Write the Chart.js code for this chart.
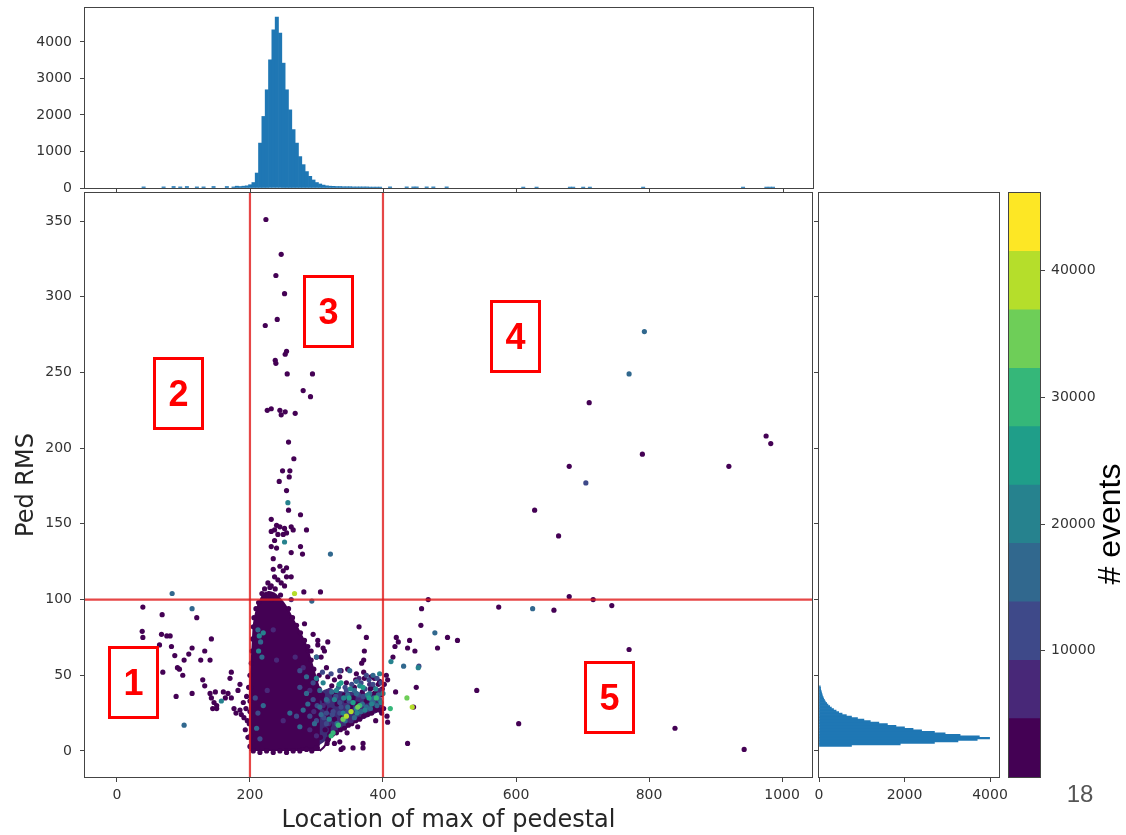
<!DOCTYPE html>
<html>
<head>
<meta charset="utf-8">
<script src="https://cdn.jsdelivr.net/npm/chart.js@4.4.1/dist/chart.umd.min.js"></script>
<style>
  html, body { margin: 0; background: #fff; }
  #stage { position: relative; width: 1126px; height: 835px; overflow: hidden; font-family: "DejaVu Sans", sans-serif; }
  canvas { position: absolute; }
  #cTop { left: 0; top: -10px; }
  #cMain { left: 0; top: 170px; }
  #cRight { left: 800px; top: 170px; }
  #cBar { left: 1000px; top: 170px; }
  .box { position: absolute; box-sizing: border-box; width: 51px; height: 73px; border: 3px solid #f00; color: #f00;
         font: bold 36px "Liberation Sans", Arial, sans-serif; display: flex; align-items: center; justify-content: center; }
  #evLabel { position: absolute; left: 1011px; top: 504px; width: 200px; height: 40px; line-height: 40px; text-align: center;
             font: 32px "Liberation Sans", Arial, sans-serif; color: #000; transform: rotate(-90deg); }
  #minLabel { position: absolute; left: 1050px; top: 780px; width: 60px; height: 30px; line-height: 30px; text-align: center;
              font: 24px "Liberation Sans", Arial, sans-serif; color: #555; }
</style>
</head>
<body>
<div id="stage">
  <canvas id="cTop" width="820" height="216"></canvas>
  <canvas id="cMain" width="816" height="665"></canvas>
  <canvas id="cRight" width="215" height="665"></canvas>
  <canvas id="cBar" width="126" height="665"></canvas>
  <div class="box" style="left:108px;top:646px">1</div>
  <div class="box" style="left:153px;top:357px">2</div>
  <div class="box" style="left:303px;top:275px">3</div>
  <div class="box" style="left:490px;top:300px">4</div>
  <div class="box" style="left:584px;top:661px">5</div>
  <div id="evLabel"># events</div>
  <div id="minLabel">18</div>
</div>
<script>
// ---- data ----
const mainXTicks = [0, 200, 400, 600, 800, 1000];
const mainYTicks = [0, 50, 100, 150, 200, 250, 300, 350];
const topYTicks = [0, 1000, 2000, 3000, 4000];
const rightXTicks = [0, 2000, 4000];
const cbarTicks = [10000, 20000, 30000, 40000];
const cutX = [200, 400];
const cutY = [100];

// top histogram (location of max), bin centres / counts
const topHistX = [40,70,85,95,105,120,130,145,165,175,180,185,190,195,
  200,205,210,215,220,225,230,235,240,245,250,255,260,265,270,275,280,285,290,295,
  300,305,310,315,320,325,330,335,340,345,350,355,360,365,370,375,380,385,390,395,
  410,435,445,450,465,475,495,610,630,680,685,700,710,790,940,975,980,985];
const topHistN = [30,30,40,30,40,30,30,40,40,30,50,40,50,60,
  90,150,410,1230,1960,2690,3510,4330,4680,4240,3420,2690,2140,1600,1230,860,640,450,320,220,
  150,110,80,60,50,45,40,40,35,35,35,30,30,30,30,30,25,25,25,25,
  30,30,30,30,30,30,30,25,25,25,25,25,25,25,25,25,25,25];

// right histogram (ped RMS), bin centres / counts
const rightHistY = [3.5,4.5,5.5,6.5,7.5,8.5,9.5,10.5,11.5,12.5,13.5,14.5,15.5,16.5,17.5,18.5,19.5,20.5,21.5,22.5,
  23.5,24.5,25.5,26.5,27.5,28.5,29.5,30.5,31.5,32.5,33.5,34.5,35.5,36.5,37.5,38.5,39.5,40.5,41.5,42.5];
const rightHistN = [760,1900,2700,3250,3700,3990,3750,3300,2950,2700,2400,2200,2000,1800,1600,1400,1200,1050,900,760,
  640,540,460,400,340,290,250,210,180,150,130,110,95,80,70,60,50,40,35,30];

// colour bar levels (# events)
const cbarLevels = [18, 4630, 9240, 13850, 18470, 23080, 27700, 32310, 36920, 41540, 46150];

// dense core of the scatter (upper edge, filled down to 0) and the denser part of the tail
const coreOutline = [[201,0],[200,40],[202,55],[204,70],[206,84],[210,93],[215,99],[220,103],[228,105],[236,104],[244,101],
  [250,98],[256,94],[262,89],[268,84],[274,79],[280,74],[286,68],[290,62],[294,56],[298,50],[302,44],[306,38],[310,32],
  [314,26],[318,20],[320,14],[318,8],[312,3],[305,0]];
const tailUpper = [[302,38],[315,41],[330,40],[345,39],[360,39],[375,38],[390,37],[400,33]];
const tailLower = [[302,3],[315,7],[330,12],[345,15],[360,19],[375,22],[390,25],[400,27]];

// scatter points grouped by colour bin
const ptsClass0 = [
  [39,95],[68,90],[120,88],[38,79],[39,75],[67,77],[75,76],[80,76],[64,70],[82,69],[87,63],[91,55],[94,54],[99,50],[69,52],
  [101,60],[108,64],[113,68],[126,60],[132,66],[142,74],[140,60],[129,47],[132,43],[113,38],[89,36],[140,38],[148,39],[142,35],
  [146,32],[150,30],[144,28],[150,28],[160,39],[167,38],[163,35],[170,48],[172,52],[172,35],[176,28],[179,25],[185,44],[182,40],
  [187,24],[191,22],[185,27],[190,32],[194,28],[196,20],[193,14],[197,9],[195,36],[198,42],
  [224,351],[247,328],[239,314],[252,302],[241,285],[223,281],[255,264],[253,262],[238,258],[239,256],[256,249],[294,249],
  [280,238],[291,234],[226,225],[232,226],[245,225],[247,222],[253,224],[268,223],[258,204],[266,193],[249,185],[260,185],
  [259,181],[244,178],[255,172],[258,159],[276,156],[285,146],[232,153],[240,149],[245,148],[252,147],[262,148],[265,146],
  [237,146],[232,145],[242,143],[237,139],[250,143],[255,144],[232,135],[240,134],[262,131],[276,135],[279,130],[235,127],
  [245,122],[235,120],[255,121],[250,119],[237,115],[242,113],[227,111],[232,109],[247,111],[252,109],[262,115],[255,115],
  [222,103],[227,102],[232,100],[281,105],[306,105],
  [364,82],[375,75],[372,66],[371,60],[368,58],[420,75],[418,69],[423,72],[440,73],[437,68],[448,66],[415,62],[458,94],
  [457,83],[468,100],[482,68],[497,75],[512,73],[450,42],[446,29],[437,5],[419,39],[407,19],[389,20],[541,40],[604,18],
  [574,95],[657,93],[744,96],[770,67],[839,15],[943,1],[710,230],[976,208],[983,203],[790,196],[680,188],[920,188],
  [628,159],[664,142],[680,102],[716,100],
  [200,3],[201,10],[199,18],[200,26],[200,33],[201,42],[200,50],[202,58],[203,66],[204,74],[205,82],[206,88],[209,94],[213,98],
  [205,0],[215,-1],[225,0],[235,-1],[245,0],[255,-1],[265,0],[275,0],[285,1],[293,0],[300,2],
  [258,94],[264,88],[270,83],[276,78],[282,73],[288,66],[292,60],[296,54],[300,47],[304,41],[308,35],[312,29],[316,23],[319,17],[320,11],[316,5],
  [218,104],[222,107],[230,108],[238,107],[246,103],
  [282,84],[295,77],[302,73],[287,69],[292,66],[310,68],[312,66],[317,72],[302,70],[300,62],[307,62],[337,53],[347,54],[360,51],
  [317,49],[327,47],[357,42],[327,37],[342,37],[372,48],[382,49],[387,48],[395,46],[385,42],[390,39],[397,37],[407,47],[402,44],[405,50],
  [318,8],[324,11],[330,12],[336,14],[342,15],[348,17],[353,18],[359,20],[365,21],[371,23],[377,24],[383,25],[389,27],[395,27],
  [401,28],[398,25],[392,30],[386,29],[317,7],[327,5],[337,1],[340,2],[355,2],[370,5],[370,2],[335,6],[406,23],
  [321,27],[331,31],[345,33],[355,35],[369,39],[381,41],[393,44],[327,21],[339,23],[351,29],[361,31],[375,33],[387,38],[399,41],
  [309,37],[323,43],[335,49],[345,45],[359,47],[371,52],[315,55],[304,50],[313,14],[306,9],[346,12],[362,16]
];
const ptsClass1 = [[262,100],[268,62],[280,55],[290,40],[310,30],[320,40],[345,30],[365,35],[380,44],[395,40],[300,10],[290,14],[335,20],
  [318,18],[352,20],[376,28],[296,26],[364,48],[240,60],[226,40],[250,20],[235,80]];
const ptsClass2 = [[275,53],[295,45],[275,42],[295,34],[315,25],[290,23],[270,23],[315,18],[208,35],[212,25],[215,8],[454,56],[705,177],
  [335,53],[322,51],[375,50],[345,40],[370,36],[335,32],[300,20],
  [317,33],[329,36],[343,42],[353,44],[367,45],[379,47],[391,48],[325,26],[337,29],[349,33],[363,37],[373,41],[385,44],[397,45],
  [311,22],[324,24],[335,25],[347,26],[301,30],[309,52]];
const ptsClass3 = [[285,49],[305,40],[285,38],[305,29],[280,27],[260,25],[275,16],[210,15],[220,30],[212,80],[216,72],[218,62],[300,62],
  [350,53],[360,46],[385,50],[360,38],[315,34],[347,29],[380,38],[387,35],[375,29],[385,32],[395,34],[793,277],[770,249],[625,94],
  [478,78],[431,56],[113,94],[83,104],[101,17],[321,130],[293,99],
  [323,39],[333,42],[347,37],[357,40],[369,31],[383,34],[393,37],[331,18],[343,20],[357,22],[367,26],[381,28],[391,30],[307,24],[297,18],[287,31]];
const ptsClass4 = [[214,76],[213,66],[257,164],[252,138],[412,59],[453,55],[157,33],[360,28],[395,51],[300,48],[330,40],[340,25],[310,45],[220,78],
  [327,34],[341,35],[351,41],[365,43],[377,37],[389,41],[400,38],[319,21],[361,25],[373,27],[383,31],[397,32]];
const ptsClass5 = [[355,32],[370,42],[334,44],[337,45],[349,35],[379,35]];
const ptsClass6 = [[411,28],[325,12],[322,10],[365,30],[333,17],[390,35]];
const ptsClass7 = [[436,35],[340,21],[362,29]];
const ptsClass8 = [[267,104],[352,26],[345,23],[444,29]];

// ---- styling ----
const VIRIDIS10 = ['#440154','#482878','#3e4989','#31688e','#26828e','#1f9e89','#35b779','#6ece58','#b5de2b','#fde725'];
const HIST = '#1f77b4';
const tickFont = { family: 'DejaVu Sans', size: 14 };
const titleFont = { family: 'DejaVu Sans', size: 24 };
const grid = { drawOnChartArea: false, drawTicks: true, tickLength: 5, color: '#444', lineWidth: 1, offset: false };
const plain = (v) => String(v);
const base = { responsive: false, animation: false, events: [], plugins: { legend: { display: false }, tooltip: { enabled: false } } };
const fixTicks = (arr) => (s) => { s.ticks = arr.map((v) => ({ value: v })); };

const frame = {
  id: 'frame',
  afterDraw(chart) {
    const a = chart.chartArea, c = chart.ctx;
    c.save(); c.strokeStyle = '#444'; c.lineWidth = 1;
    c.strokeRect(a.left - 0.5, a.top - 0.5, a.right - a.left + 1, a.bottom - a.top + 1);
    c.restore();
  },
};
const cuts = {
  id: 'cuts',
  afterDatasetsDraw(chart) {
    const { ctx, chartArea: a, scales: { x, y } } = chart;
    ctx.save(); ctx.strokeStyle = 'rgba(225,30,30,0.82)'; ctx.lineWidth = 2.2;
    cutX.forEach((v) => { const p = x.getPixelForValue(v); ctx.beginPath(); ctx.moveTo(p, a.top); ctx.lineTo(p, a.bottom); ctx.stroke(); });
    cutY.forEach((v) => { const p = y.getPixelForValue(v); ctx.beginPath(); ctx.moveTo(a.left, p); ctx.lineTo(a.right, p); ctx.stroke(); });
    ctx.restore();
  },
};

// ---- top histogram ----
new Chart(document.getElementById('cTop'), {
  type: 'bar',
  data: { datasets: [{ data: topHistX.map((x, i) => ({ x, y: topHistN[i] })), backgroundColor: HIST, borderWidth: 0, barPercentage: 1, categoryPercentage: 1 }] },
  options: { ...base,
    layout: { padding: { top: 18, right: 7, bottom: 12, left: 0 } },
    scales: {
      x: { type: 'linear', offset: false, min: -48, max: 1045, grid, border: { display: false }, ticks: { display: false },
           afterBuildTicks: fixTicks(mainXTicks), afterFit: (s) => { s.height = 6; } },
      y: { type: 'linear', min: 0, max: 4930, grid, border: { display: false }, ticks: { font: tickFont, color: '#333', padding: 8, callback: plain },
           afterBuildTicks: fixTicks(topYTicks), afterFit: (s) => { s.width = 85; } },
    } },
  plugins: [frame],
});

// ---- main scatter ----
const toXY = (arr) => arr.map(([x, y]) => ({ x, y }));
const classSets = [ptsClass0, ptsClass1, ptsClass2, ptsClass3, ptsClass4, ptsClass5, ptsClass6, ptsClass7, ptsClass8].map((pts, k) => ({
  type: 'scatter', data: toXY(pts), backgroundColor: VIRIDIS10[k], borderWidth: 0, pointRadius: 2.6, order: 50 - k,
}));
new Chart(document.getElementById('cMain'), {
  type: 'scatter',
  data: { datasets: [
    { type: 'line', data: toXY(coreOutline), fill: 'origin', backgroundColor: VIRIDIS10[0], borderColor: VIRIDIS10[0], borderWidth: 2, pointRadius: 0, tension: 0.3, order: 100 },
    { type: 'line', data: toXY(tailUpper), fill: 2, backgroundColor: '#3d2d76', borderColor: 'rgba(0,0,0,0)', borderWidth: 0, pointRadius: 0, tension: 0.3, order: 101 },
    { type: 'line', data: toXY(tailLower), fill: false, borderColor: 'rgba(0,0,0,0)', borderWidth: 0, pointRadius: 0, tension: 0.3, order: 102 },
    ...classSets,
  ] },
  options: { ...base,
    layout: { padding: { top: 23, right: 3, bottom: 0, left: 0 } },
    scales: {
      x: { type: 'linear', min: -48, max: 1045, grid, border: { display: false }, ticks: { font: tickFont, color: '#333', padding: 5, maxRotation: 0, callback: plain },
           afterBuildTicks: fixTicks(mainXTicks), afterFit: (s) => { s.height = 58; },
           title: { display: true, text: 'Location of max of pedestal', font: titleFont, color: '#262626', padding: { top: 0, bottom: 0 } } },
      y: { type: 'linear', min: -17.2, max: 368.5, grid, border: { display: false }, ticks: { font: tickFont, color: '#333', padding: 8, callback: plain },
           afterBuildTicks: fixTicks(mainYTicks), afterFit: (s) => { s.width = 85; },
           title: { display: true, text: 'Ped RMS', font: titleFont, color: '#262626', padding: { top: 12, bottom: 0 } } },
    } },
  plugins: [frame, cuts],
});

// ---- right histogram ----
new Chart(document.getElementById('cRight'), {
  type: 'bar',
  data: { datasets: [{ data: rightHistY.map((y, i) => ({ x: rightHistN[i], y })), backgroundColor: HIST, borderWidth: 0, barPercentage: 1, categoryPercentage: 1 }] },
  options: { ...base, indexAxis: 'y',
    layout: { padding: { top: 23, right: 16, bottom: 0, left: 12 } },
    scales: {
      x: { type: 'linear', min: 0, max: 4210, grid, border: { display: false }, ticks: { font: tickFont, color: '#333', padding: 5, maxRotation: 0, callback: plain },
           afterBuildTicks: fixTicks(rightXTicks), afterFit: (s) => { s.height = 58; } },
      y: { type: 'linear', offset: false, min: -17.2, max: 368.5, grid, border: { display: false }, ticks: { display: false },
           afterBuildTicks: fixTicks(mainYTicks), afterFit: (s) => { s.width = 7; } },
    } },
  plugins: [frame],
});

// ---- colour bar ----
new Chart(document.getElementById('cBar'), {
  type: 'bar',
  data: { labels: [''], datasets: cbarLevels.slice(0, -1).map((lo, i) => ({
    data: [[lo, cbarLevels[i + 1]]], backgroundColor: VIRIDIS10[i], borderWidth: 0, grouped: false, barPercentage: 1, categoryPercentage: 1,
  })) },
  options: { ...base,
    layout: { padding: { top: 23, right: 0, bottom: 58, left: 9 } },
    scales: {
      x: { display: false },
      y: { position: 'right', min: 18, max: 46150, grid, border: { display: false }, ticks: { font: tickFont, color: '#333', padding: 6, callback: plain },
           afterBuildTicks: fixTicks(cbarTicks), afterFit: (s) => { s.width = 86; } },
    } },
  plugins: [frame],
});
</script>
</body>
</html>
